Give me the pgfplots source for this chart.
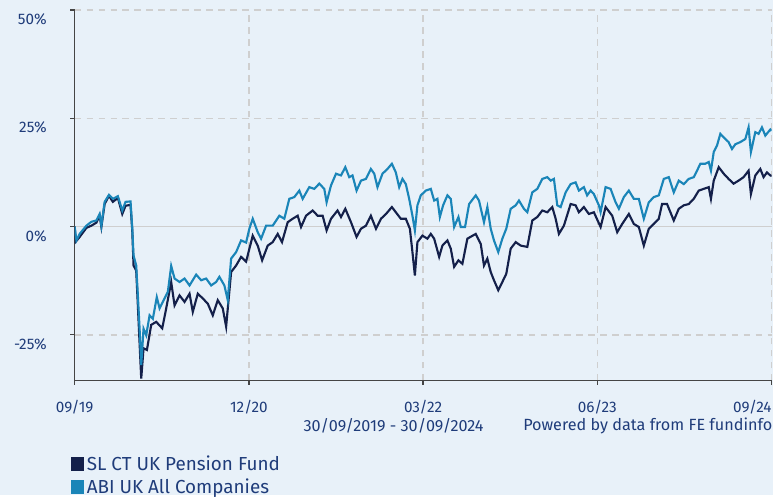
\documentclass[border=0pt]{standalone}
\usepackage{pgfplots}
\pgfplotsset{compat=1.18}
\usepackage{fontspec}
\setmainfont{Fira Sans}
\definecolor{bg}{HTML}{E8F1F9}
\definecolor{navy}{HTML}{14204A}
\definecolor{abiblue}{HTML}{1A85B8}
\definecolor{txt}{HTML}{1F3C7A}
\definecolor{gridc}{HTML}{CFCFCF}
\definecolor{axc}{HTML}{454545}
\begin{document}
\begin{tikzpicture}
\fill[bg] (-56.25pt,-86.25pt) rectangle (525.75pt,286.5pt);
\begin{axis}[
  scale only axis, width=525pt, height=279pt,
  xmin=0, xmax=60, ymin=-35.5, ymax=50,
  clip mode=individual,
  axis x line*=bottom, axis y line*=left,
  axis line style={axc, line width=1.2pt},
  xtick={0,15,30,45,60},
  xticklabels={09/19,12/20,03/22,06/23,\makebox[0pt][r]{09/24}},
  ytick={-25,25,50}, yticklabels={-25\%,25\%,50\%},
  extra y ticks={0}, extra y tick labels={0\%},
  extra y tick style={grid=major, major grid style={solid, gridc, line width=1.2pt}},
  tick align=outside, major tick length=3.5pt,
  tick style={axc, line width=1pt},
  ticklabel style={font=\fontsize{11.5}{13}\selectfont, text=txt},
  yticklabel style={yshift=-7pt, xshift=-14pt},
  xticklabel style={yshift=-8pt},
  grid=major,
  major grid style={gridc, dash pattern=on 5pt off 4pt, line width=1.1pt},
  legend style={at={(axis description cs:-0.006,-0.195)}, anchor=north west,
    draw=none, fill=none, font=\fontsize{14.2}{16}\selectfont, text=txt,
    row sep=1pt, inner sep=0pt},
  legend cell align=left,
  legend image code/.code={\fill[#1] (0pt,-4.5pt) rectangle (8.5pt,4.5pt);},
]
\addplot[navy, line width=1.6pt] coordinates {
(0,0) (0.09,-3.5) (0.43,-2.4) (1.01,-0.3) (1.44,0.2) (1.87,0.9) (2.15,2.5) (2.30,-0.1)
(2.58,5.2) (2.95,7.1) (3.29,5.7) (3.72,6.6) (4.10,2.9) (4.38,4.8) (4.81,5.0) (4.96,-1.0)
(5.07,-9.0) (5.30,-10.2) (5.44,-18.2) (5.59,-27.0) (5.73,-35.1) (5.93,-28.1) (6.22,-28.5)
(6.59,-22.7) (7.02,-22.0) (7.54,-23.5) (7.88,-18.9) (8.31,-12.8) (8.60,-18.2) (9.03,-15.9)
(9.46,-17.4) (9.89,-15.5) (10.17,-19.7) (10.60,-15.5) (11.03,-16.6) (11.46,-17.8) (11.89,-20.5)
(12.32,-17.0) (12.75,-18.9) (13.04,-23.1) (13.47,-10.5) (13.90,-9.0) (14.33,-7.0) (14.76,-8.1)
(15.33,-2.1) (15.76,-4.4) (16.14,-7.8) (16.62,-4.4) (17.05,-3.6) (17.48,-1.7) (17.85,-3.6)
(18.34,1.0) (18.77,1.8) (19.20,2.5) (19.49,-0.1) (19.92,2.5) (20.49,3.7) (20.92,2.5)
(21.35,2.5) (21.69,-0.9) (22.07,1.8) (22.63,3.7) (22.93,2.2) (23.30,4.1) (23.79,1.0)
(24.27,-2.4) (24.65,-0.5) (25.08,0.2) (25.50,2.5) (25.94,-0.5) (26.37,1.8) (26.80,2.9)
(27.31,4.5) (27.65,3.3) (28.08,1.8) (28.51,1.8) (28.86,-0.5) (29.08,-5.9) (29.29,-11.3)
(29.51,-3.6) (29.94,-2.1) (30.37,-2.8) (30.66,-1.7) (30.95,-2.8) (31.38,-7.0) (31.66,-4.4)
(32.09,-3.2) (32.38,-5.1) (32.67,-9.3) (33.04,-7.8) (33.38,-8.6) (33.81,-2.8) (34.53,-1.7)
(34.96,-4.0) (35.24,-9.0) (35.53,-7.4) (35.82,-10.5) (36.10,-12.4) (36.47,-14.7) (36.82,-12.8)
(37.16,-10.9) (37.54,-5.1) (37.97,-3.6) (38.40,-4.4) (38.97,-4.7) (39.40,1.4) (39.83,2.2)
(40.26,3.7) (40.69,3.3) (41.12,4.5) (41.41,1.8) (41.69,-1.7) (42.12,0.2) (42.70,5.2)
(43.13,4.9) (43.41,3.3) (43.84,4.5) (44.27,2.9) (44.70,3.3) (45.28,-0.1) (45.71,4.5)
(46.28,2.5) (46.71,-1.3) (47.14,0.6) (47.71,2.9) (48.14,0.6) (48.57,-0.1) (49.00,-4.4)
(49.43,-0.5) (49.86,0.6) (50.29,1.8) (50.57,5.2) (51.00,5.2) (51.58,1.4) (52.01,4.1)
(52.44,4.9) (52.87,5.2) (53.30,6.4) (53.73,8.3) (54.16,8.7) (54.59,9.1) (54.78,6.4)
(55.02,10.6) (55.45,13.7) (55.88,12.2) (56.30,11.0) (56.73,9.9) (57.16,10.6) (57.59,11.4)
(58.02,12.9) (58.22,7.5) (58.60,11.8) (59.03,13.3) (59.31,11.4) (59.60,12.5) (59.89,11.8) (60,11.7)
};
\addlegendentry{SL CT UK Pension Fund}
\addplot[abiblue, line width=1.6pt] coordinates {
(0,0) (0.15,-3.2) (0.43,-1.7) (1.01,0.2) (1.44,1.1) (1.87,1.4) (2.15,2.9) (2.30,0.2)
(2.58,5.7) (2.95,7.3) (3.29,6.4) (3.72,7.0) (4.10,3.7) (4.38,5.7) (4.81,5.8) (4.96,-0.5)
(5.07,-6.7) (5.30,-9.0) (5.44,-15.9) (5.59,-23.6) (5.73,-32.0) (5.93,-23.6) (6.16,-25.1)
(6.45,-20.5) (6.73,-21.3) (7.07,-16.3) (7.31,-18.9) (7.74,-16.6) (8.02,-15.1) (8.31,-9.1)
(8.60,-12.0) (9.03,-12.8) (9.46,-12.0) (9.89,-13.6) (10.46,-11.1) (10.89,-12.4) (11.32,-12.0)
(11.75,-13.6) (12.18,-12.8) (12.46,-11.6) (12.89,-13.6) (13.18,-17.0) (13.47,-7.4) (13.90,-5.9)
(14.33,-3.2) (14.76,-3.7) (15.04,-0.5) (15.33,1.8) (15.76,-1.3) (16.05,-2.8) (16.48,0.2)
(17.05,0.2) (17.62,2.5) (18.05,1.8) (18.48,6.4) (18.91,6.8) (19.34,8.3) (19.63,6.4)
(20.20,9.1) (20.63,8.7) (21.06,9.9) (21.49,8.7) (21.69,5.6) (22.07,9.5) (22.50,12.2)
(22.93,11.8) (23.30,13.7) (23.64,11.4) (23.92,11.8) (24.27,8.3) (24.65,10.6) (25.08,11.0)
(25.50,13.3) (25.79,12.2) (26.07,9.1) (26.50,12.2) (26.93,13.3) (27.31,14.5) (27.65,12.5)
(27.94,9.1) (28.22,11.0) (28.51,9.8) (28.80,6.4) (29.08,2.5) (29.29,-0.9) (29.51,4.9)
(29.80,7.2) (30.23,8.3) (30.66,8.7) (30.95,6.0) (31.23,6.4) (31.44,2.2) (31.72,4.9)
(32.09,7.2) (32.38,6.4) (32.67,-0.1) (33.04,2.2) (33.24,-0.1) (33.61,-0.1) (33.96,5.2)
(34.53,7.2) (34.81,6.0) (35.24,1.0) (35.53,4.5) (35.82,-0.5) (36.10,-3.2) (36.47,-5.9)
(36.82,-2.8) (37.16,-0.5) (37.54,4.1) (37.97,4.9) (38.25,6.0) (38.68,4.1) (38.97,3.3)
(39.40,7.9) (39.83,8.7) (40.26,11.0) (40.69,11.4) (40.98,10.6) (41.26,11.0) (41.55,4.9)
(41.84,4.5) (42.27,7.9) (42.70,9.8) (43.13,10.2) (43.41,8.3) (43.84,9.1) (44.12,7.2)
(44.42,8.3) (44.70,7.5) (45.13,4.9) (45.28,3.3) (45.71,9.1) (46.14,8.7) (46.57,5.6)
(46.85,4.1) (47.28,6.8) (47.71,8.3) (48.14,6.4) (48.57,6.4) (49.00,1.8) (49.43,5.6)
(49.86,6.8) (50.29,7.2) (50.72,11.0) (51.15,11.4) (51.58,7.9) (52.01,10.6) (52.44,9.8)
(52.87,11.0) (53.30,11.4) (53.58,12.9) (53.87,14.5) (54.30,14.5) (54.59,14.9) (54.78,12.9)
(55.02,17.2) (55.30,18.7) (55.59,21.4) (56.02,20.2) (56.30,19.5) (56.59,17.9) (56.88,19.0)
(57.31,19.5) (57.74,20.2) (58.02,22.9) (58.22,17.2) (58.60,21.8) (58.88,21.4) (59.17,22.9)
(59.46,21.0) (59.89,22.4) (60,22.1)
};
\addlegendentry{ABI UK All Companies}
\end{axis}
\node[anchor=east, text=txt, font=\fontsize{12.2}{14}\selectfont, inner sep=0pt]
  at (308.25pt,-34.5pt) {30/09/2019 - 30/09/2024};
\node[anchor=east, text=txt, font=\fontsize{12.2}{14}\selectfont, inner sep=0pt]
  at (525.75pt,-34.5pt) {Powered by data from FE fundinfo};
\end{tikzpicture}
\end{document}
